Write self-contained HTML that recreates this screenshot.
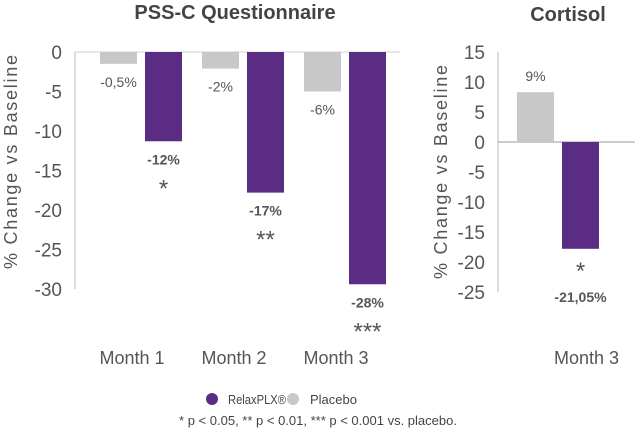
<!DOCTYPE html>
<html><head><meta charset="utf-8"><style>
html,body{margin:0;padding:0;background:#fff;}
svg{display:block;font-family:"Liberation Sans",sans-serif;}
</style></head><body>
<svg id="c" width="635" height="431" viewBox="0 0 635 431">
<text x="235" y="19" text-anchor="middle" font-size="20" font-weight="bold" fill="#444">PSS-C Questionnaire</text>
<text x="568" y="21" text-anchor="middle" font-size="20" font-weight="bold" fill="#444">Cortisol</text>
<text transform="translate(17,162) rotate(-90)" text-anchor="middle" font-size="18" fill="#555" textLength="214">% Change vs Baseline</text>
<text transform="translate(447,172) rotate(-90)" text-anchor="middle" font-size="18" fill="#555" textLength="214">% Change vs Baseline</text>
<g id="L"></g><g id="R"></g>
<circle cx="212" cy="399" r="6" fill="#5b2c83"/>
<text x="228" y="404" font-size="13" fill="#444" textLength="58" lengthAdjust="spacingAndGlyphs">RelaxPLX®</text>
<circle cx="293" cy="399" r="6" fill="#c8c8c8"/>
<text x="310" y="404" font-size="13" fill="#444">Placebo</text>
<text x="318" y="425" text-anchor="middle" font-size="13" fill="#444">* p &lt; 0.05,  ** p &lt; 0.01, *** p &lt; 0.001 vs. placebo.</text>
</svg>
<script>
const leftCategories=["Month 1","Month 2","Month 3"];
const leftPlacebo=[-1.5,-2.1,-5];
const leftRelax=[-11.3,-17.8,-29.4];
const leftPlaceboLabels=["-0,5%","-2%","-6%"];
const leftRelaxLabels=["-12%","-17%","-28%"];
const leftStars=["*","**","***"];
const leftTicks=[0,-5,-10,-15,-20,-25,-30];
const rightCategories=["Month 3"];
const rightPlacebo=[8.3];
const rightRelax=[-17.8];
const rightPlaceboLabels=["9%"];
const rightRelaxLabels=["-21,05%"];
const rightStars=["*"];
const rightTicks=[15,10,5,0,-5,-10,-15,-20,-25];
const NS="http://www.w3.org/2000/svg";
function mk(g,t,a,txt){const e=document.createElementNS(NS,t);for(const k in a)e.setAttribute(k,a[k]);if(txt!==undefined)e.textContent=txt;g.appendChild(e);return e;}
function draw(g,o){
  const y=v=>o.y0+(v-o.max)*(o.y1-o.y0)/(o.min-o.max);
  o.ticks.forEach(t=>{const e=mk(g,'text',{x:o.axX-13,y:y(t)+7,'text-anchor':'end','font-size':19,fill:'#555'},String(t));
    
    });
  const ax=mk(g,'line',{x1:o.axX,x2:o.axX,y1:y(o.max),y2:y(o.min),stroke:'#d0d0d0','stroke-width':1.5});
  
  
  const z=mk(g,'line',{x1:o.axX,x2:o.zeroEnd,y1:y(0),y2:y(0),stroke:o.zeroColor,'stroke-width':1});
  
  
  o.cats.forEach((c,i)=>{
    const cx=o.axX+o.band*(i+0.5);
    const px=cx-o.band/2+o.off, rx=px+45, w=37;
    const pv=o.plac[i], rv=o.rel[i];
    const pb=mk(g,'rect',{x:px,y:Math.min(y(0),y(pv)),width:w,height:Math.abs(y(pv)-y(0)),fill:'#c8c8c8'});
    
    
    const rb=mk(g,'rect',{x:rx,y:Math.min(y(0),y(rv)),width:w,height:Math.abs(y(rv)-y(0)),fill:'#5b2c83'});
    
    
    const pl=mk(g,'text',{x:px+w/2,y:pv<0?y(pv)+23:y(pv)-11,'text-anchor':'middle','font-size':14,fill:'#555'},o.pl[i]);
    
    
    if(o.starFirst){
      const s=mk(g,'text',{x:rx+w/2,y:y(rv)+30,'text-anchor':'middle','font-size':24,fill:'#555'},o.stars[i]);
      
      
      const rl=mk(g,'text',{x:rx+w/2,y:y(rv)+53,'text-anchor':'middle','font-size':14,'font-weight':'bold',fill:'#555'},o.rl[i]);
      
      
    } else {
      const ry=y(rv)+23;
      const rl=mk(g,'text',{x:rx+w/2,y:ry,'text-anchor':'middle','font-size':14,'font-weight':'bold',fill:'#555'},o.rl[i]);
      
      
      const s=mk(g,'text',{x:rx+w/2,y:ry+32,'text-anchor':'middle','font-size':24,fill:'#555'},o.stars[i]);
      
      
    }
    const cl=mk(g,'text',{x:cx+o.catShift,y:364,'text-anchor':'middle','font-size':18,fill:'#555'},c);
    
    
  });
}
draw(document.getElementById('L'),{y0:52,y1:289,max:0,min:-30,ticks:leftTicks,axX:75,zeroEnd:400,zeroColor:'#d0d0d0',band:102,off:25,cats:leftCategories,plac:leftPlacebo,rel:leftRelax,pl:leftPlaceboLabels,rl:leftRelaxLabels,stars:leftStars,catShift:6,starFirst:false});
draw(document.getElementById('R'),{y0:52,y1:292,max:15,min:-25,ticks:rightTicks,axX:498,zeroEnd:635,zeroColor:'#999',band:137,off:19,cats:rightCategories,plac:rightPlacebo,rel:rightRelax,pl:rightPlaceboLabels,rl:rightRelaxLabels,stars:rightStars,catShift:20,starFirst:true});
</script>
</body></html>
